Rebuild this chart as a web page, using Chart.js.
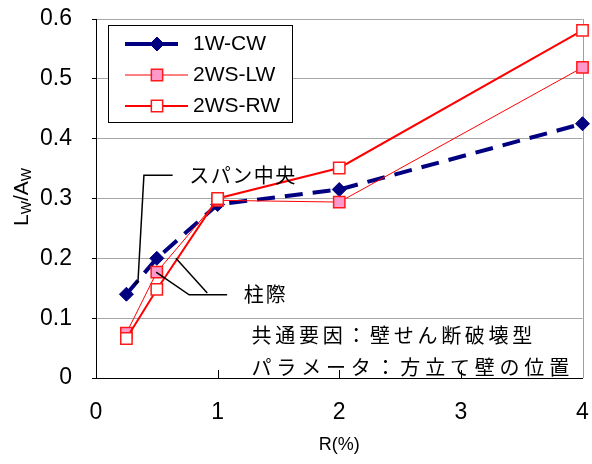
<!DOCTYPE html>
<html>
<head>
<meta charset="utf-8">
<script src="https://cdn.jsdelivr.net/npm/chart.js@4.4.1/dist/chart.umd.min.js"></script>
<style>
  html, body { margin: 0; padding: 0; background: #fff; }
  canvas { display: block; }
</style>
</head>
<body>
<canvas id="grafico" width="592" height="464"></canvas>
<script>
// datos
const xValores = [0.25, 0.5, 1, 2, 4];
const serieCW = [0.14, 0.2, 0.29, 0.315, 0.425];
const serieLW = [0.075, 0.177, 0.297, 0.294, 0.519];
const serieRW = [0.066, 0.148, 0.3, 0.351, 0.581];
const nombres = ['1W-CW', '2WS-LW', '2WS-RW'];
const xTicks = [0, 1, 2, 3, 4];
const yTicks = [0, 0.1, 0.2, 0.3, 0.4, 0.5, 0.6];
const tituloX = 'R(%)';
const tituloY = [['L', false], ['W', true], ['/', false], ['A', false], ['W', true]];
const notaSpan = 'スパン中央';
const notaColumna = '柱際';
const notaCaja = ['共通要因：壁せん断破壊型', 'パラメータ：方立て壁の位置'];

// posiciones de las anotaciones en unidades de datos
const guiaSpan = [[0.63, 0.339], [0.394, 0.339], [0.345, 0.161], [0.318, 0.156]];
const textoSpan = [0.766, 0.339];
const guiaColumna1 = [[0.494, 0.177], [0.766, 0.139], [1.078, 0.139]];
const guiaColumna2 = [[0.657, 0.2], [0.915, 0.142]];
const textoColumna = [1.214, 0.139];
const textoCaja = [[1.279, 0.072], [1.279, 0.018]];
const espacioCaja = [3.7, 4.8];

const FUENTE_JP = '"Noto Sans CJK JP", sans-serif';
const FUENTE_LAT = '"Liberation Sans", Arial, sans-serif';

const puntos = (xs, ys) => xs.map((x, i) => ({ x: x, y: ys[i] }));

function trazar(ctx, x, y, ruta) {
  ctx.beginPath();
  ruta.forEach((p, i) => {
    const px = x.getPixelForValue(p[0]);
    const py = y.getPixelForValue(p[1]);
    if (i === 0) ctx.moveTo(px, py); else ctx.lineTo(px, py);
  });
  ctx.stroke();
}

function textoEspaciado(ctx, txt, px, py, espacio) {
  let cx = px;
  for (const ch of txt) {
    ctx.fillText(ch, cx, py);
    cx += ctx.measureText(ch).width + espacio;
  }
}

const decor = {
  id: 'decor',
  beforeDatasetsDraw(chart) {
    const { ctx, chartArea: a, scales: { x } } = chart;
    ctx.save();
    // borde derecho gris
    ctx.strokeStyle = '#a0a0a0';
    ctx.lineWidth = 1;
    ctx.beginPath();
    ctx.moveTo(Math.round(a.right) + 0.5, a.top);
    ctx.lineTo(Math.round(a.right) + 0.5, a.bottom);
    ctx.stroke();
    // marcas del eje x hacia dentro
    ctx.strokeStyle = '#000';
    xTicks.slice(1, -1).forEach(v => {
      const px = Math.round(x.getPixelForValue(v)) + 0.5;
      ctx.beginPath();
      ctx.moveTo(px, a.bottom);
      ctx.lineTo(px, a.bottom - 8);
      ctx.stroke();
    });
    ctx.restore();
  },
  afterDatasetsDraw(chart) {
    const { ctx, chartArea: a, scales: { x, y } } = chart;
    ctx.save();

    // lineas guia
    ctx.strokeStyle = '#000';
    ctx.lineWidth = 1.5;
    trazar(ctx, x, y, guiaSpan);
    trazar(ctx, x, y, guiaColumna1);
    trazar(ctx, x, y, guiaColumna2);

    // textos
    ctx.fillStyle = '#000';
    ctx.textBaseline = 'middle';
    ctx.textAlign = 'left';
    ctx.font = '20px ' + FUENTE_JP;
    textoEspaciado(ctx, notaSpan, x.getPixelForValue(textoSpan[0]), y.getPixelForValue(textoSpan[1]), 1.5);
    textoEspaciado(ctx, notaColumna, x.getPixelForValue(textoColumna[0]), y.getPixelForValue(textoColumna[1]), 2);
    notaCaja.forEach((t, i) => {
      textoEspaciado(ctx, t, x.getPixelForValue(textoCaja[i][0]), y.getPixelForValue(textoCaja[i][1]), espacioCaja[i]);
    });

    // leyenda
    const lx = a.left + 12, ly = a.top + 6, lw = 184, lh = 97;
    ctx.fillStyle = '#fff';
    ctx.fillRect(lx, ly, lw, lh);
    ctx.strokeStyle = '#000';
    ctx.lineWidth = 1;
    ctx.strokeRect(lx + 0.5, ly + 0.5, lw, lh);
    const filas = [19, 50, 81];
    chart.data.datasets.forEach((ds, i) => {
      const fy = ly + filas[i];
      ctx.strokeStyle = ds.borderColor;
      ctx.lineWidth = ds.borderWidth;
      ctx.setLineDash([]);
      ctx.beginPath();
      ctx.moveTo(lx + 17, fy);
      ctx.lineTo(lx + (i === 0 ? 70 : 80), fy);
      ctx.stroke();
      ctx.fillStyle = ds.backgroundColor;
      ctx.strokeStyle = ds.pointBorderColor || ds.borderColor;
      ctx.lineWidth = ds.pointBorderWidth;
      Chart.helpers.drawPoint(ctx, {
        pointStyle: ds.pointStyle, radius: ds.pointRadius,
        borderWidth: ds.pointBorderWidth, rotation: 0
      }, lx + 49, fy);
      ctx.fillStyle = '#000';
      ctx.font = '21px ' + FUENTE_LAT;
      ctx.textBaseline = 'middle';
      ctx.fillText(ds.label, lx + 85, fy);
    });
    ctx.restore();
  },
  afterDraw(chart) {
    const { ctx, chartArea: a } = chart;
    ctx.save();
    ctx.fillStyle = '#000';
    // titulo x
    ctx.font = '18px ' + FUENTE_LAT;
    ctx.textAlign = 'center';
    ctx.textBaseline = 'middle';
    ctx.fillText(tituloX, (a.left + a.right) / 2, 445);
    // titulo y con subindices
    const fGrande = '21px ' + FUENTE_LAT, fChica = '14px ' + FUENTE_LAT;
    let total = 0;
    tituloY.forEach(([t, sub]) => { ctx.font = sub ? fChica : fGrande; total += ctx.measureText(t).width; });
    ctx.translate(21, 197);
    ctx.rotate(-Math.PI / 2);
    ctx.textAlign = 'left';
    ctx.textBaseline = 'alphabetic';
    let cx = -total / 2;
    tituloY.forEach(([t, sub]) => {
      ctx.font = sub ? fChica : fGrande;
      ctx.fillText(t, cx, sub ? 10 : 7);
      cx += ctx.measureText(t).width;
    });
    ctx.restore();
  }
};

new Chart(document.getElementById('grafico'), {
  type: 'line',
  data: {
    datasets: [
      {
        label: nombres[0], data: puntos(xValores, serieCW),
        borderColor: '#000080', backgroundColor: '#000080',
        borderWidth: 4, borderDash: [18, 10],
        pointStyle: 'rectRot', pointRadius: 7, pointBorderWidth: 1,
        pointBorderColor: '#000080', order: 2
      },
      {
        label: nombres[1], data: puntos(xValores, serieLW),
        borderColor: '#ff0000', backgroundColor: '#ff99cc',
        borderWidth: 1,
        pointStyle: 'rect', pointRadius: 8, pointBorderWidth: 1.5,
        pointBorderColor: '#ff1a1a', order: 1
      },
      {
        label: nombres[2], data: puntos(xValores, serieRW),
        borderColor: '#ff0000', backgroundColor: '#ffffff',
        borderWidth: 2,
        pointStyle: 'rect', pointRadius: 8, pointBorderWidth: 1.5,
        pointBorderColor: '#ff1a1a', order: 0
      }
    ]
  },
  options: {
    responsive: false,
    animation: false,
    clip: false,
    layout: { padding: { top: 19, right: 5, left: 0, bottom: 0 } },
    plugins: { legend: { display: false }, tooltip: { enabled: false } },
    scales: {
      x: {
        type: 'linear', min: 0, max: 4,
        afterBuildTicks: s => { s.ticks = xTicks.map(v => ({ value: v })); },
        grid: { display: false, drawTicks: false },
        border: { color: '#000', width: 1 },
        ticks: { color: '#000', font: { family: FUENTE_LAT, size: 23 }, padding: 21 },
        afterFit: s => { s.height = 86; s.paddingLeft = 0; s.paddingRight = 0; }
      },
      y: {
        min: 0, max: 0.6,
        afterBuildTicks: s => { s.ticks = yTicks.map(v => ({ value: v })); },
        grid: {
          color: c => (c.tick && c.tick.value === 0) ? '#000' : '#a6a6a6',
          tickColor: '#000', tickLength: 4
        },
        border: { color: '#000', width: 1 },
        ticks: {
          color: '#000', font: { family: FUENTE_LAT, size: 23 }, padding: 20,
          callback: v => String(+v.toFixed(1))
        },
        afterFit: s => { s.width = 96; s.paddingTop = 0; s.paddingBottom = 0; }
      }
    }
  },
  plugins: [decor]
});
</script>
</body>
</html>
